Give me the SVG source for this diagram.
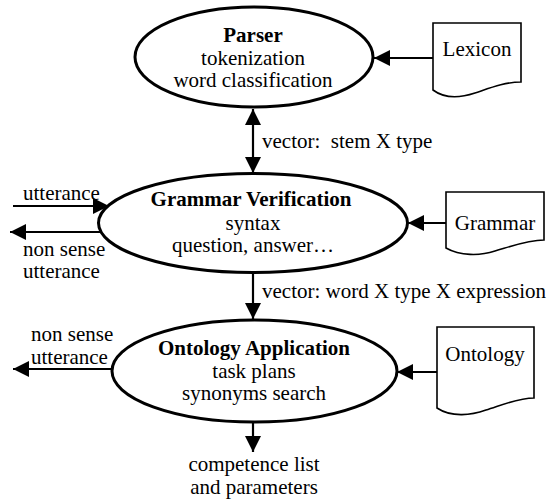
<svg xmlns="http://www.w3.org/2000/svg" width="553" height="501" viewBox="0 0 553 501">
<style>
text{font-family:"Liberation Serif","Times New Roman",serif;font-size:21px;fill:#000}
.t{font-weight:bold}
.c{text-anchor:middle}
.ell{fill:#fff;stroke:#000;stroke-width:3}
.doc{fill:#fff;stroke:#000;stroke-width:1.6}
.con line{stroke:#000;stroke-width:2.2}
</style>
<defs>
<marker id="ah" viewBox="0 0 16 16" refX="16" refY="8" markerWidth="16" markerHeight="16" markerUnits="userSpaceOnUse" orient="auto-start-reverse">
<path d="M0,0 L16,8 L0,16 Z" fill="#000"/>
</marker>
</defs>
<g id="connectors" class="con">
<line x1="433" y1="58" x2="374" y2="58" marker-end="url(#ah)"/>
<line x1="253" y1="109" x2="253" y2="173" marker-start="url(#ah)" marker-end="url(#ah)"/>
<line x1="446" y1="223" x2="408" y2="223" marker-end="url(#ah)"/>
<line x1="253" y1="272" x2="253" y2="319" marker-end="url(#ah)"/>
<line x1="437" y1="372" x2="397" y2="372" marker-end="url(#ah)"/>
<line x1="253" y1="422" x2="253" y2="452" marker-end="url(#ah)"/>
<line x1="13" y1="206" x2="109" y2="206" marker-end="url(#ah)"/>
<line x1="107" y1="232" x2="10" y2="232" marker-end="url(#ah)"/>
<line x1="112" y1="369" x2="13" y2="369" marker-end="url(#ah)"/>
<text x="262" y="148">vector:&#160; stem X type</text>
<text x="262" y="298">vector: word X type X expression</text>
<text x="23" y="200">utterance</text>
<text x="23" y="256">non sense</text>
<text x="23" y="278">utterance</text>
<text x="31" y="341">non sense</text>
<text x="31" y="364">utterance</text>
<text class="c" x="254" y="471">competence list</text>
<text class="c" x="254" y="494">and parameters</text>
</g>
<g id="parser">
<ellipse class="ell" cx="254" cy="57" rx="119" ry="50"/>
<text class="c t" x="253" y="42">Parser</text>
<text class="c" x="253" y="65">tokenization</text>
<text class="c" x="253" y="87">word classification</text>
</g>
<g id="grammar-verification">
<ellipse class="ell" cx="253" cy="223" rx="154.5" ry="49.5"/>
<text class="c t" x="251" y="206">Grammar Verification</text>
<text class="c" x="253" y="230">syntax</text>
<text class="c" x="253" y="252">question, answer…</text>
</g>
<g id="ontology-application">
<ellipse class="ell" cx="254.5" cy="371" rx="142.5" ry="51"/>
<text class="c t" x="254" y="355">Ontology Application</text>
<text class="c" x="254" y="378">task plans</text>
<text class="c" x="254" y="400">synonyms search</text>
</g>
<g id="lexicon">
<path class="doc" d="M433,23 H521 V82 C505,82 490,88 475,93 C460,98 445,99 433,90 Z"/>
<text class="c" x="477" y="56">Lexicon</text>
</g>
<g id="grammar">
<path class="doc" d="M446,192 H544 V240 C528,240 512,246 495,251 C480,256 460,256 446,248 Z"/>
<text class="c" x="495" y="230">Grammar</text>
</g>
<g id="ontology">
<path class="doc" d="M437,327 H534 V398 C518,398 502,405 486,410 C472,415 452,418 437,408 Z"/>
<text class="c" x="485" y="361">Ontology</text>
</g>
</svg>
